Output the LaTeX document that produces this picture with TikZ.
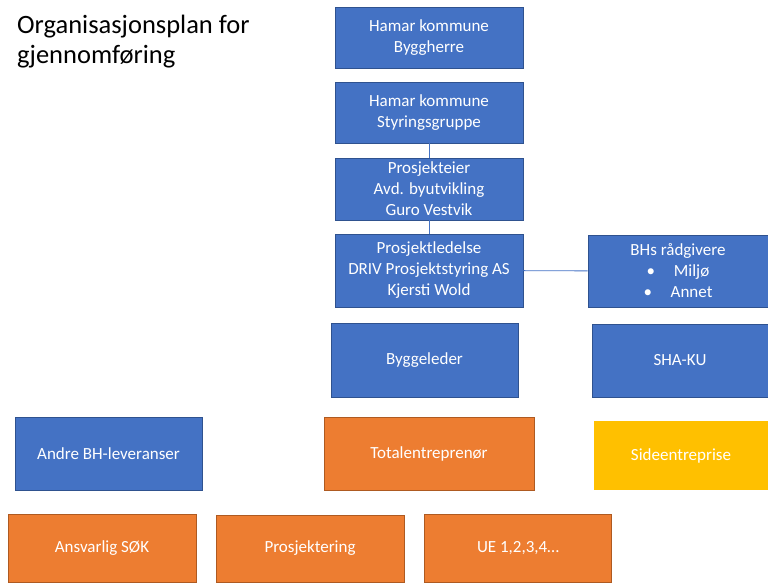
\documentclass[tikz,border=0pt]{standalone}
\usepackage{fontspec}
\setmainfont{Carlito}
\usepackage{tikz}
\usetikzlibrary{positioning,calc}

\definecolor{offblue}{HTML}{4472C4}
\definecolor{offblueline}{HTML}{2F528F}
\definecolor{offorange}{HTML}{ED7D31}
\definecolor{offorangeline}{HTML}{AE5A21}
\definecolor{offgold}{HTML}{FFC000}

\tikzset{
  orgbox/.style={draw=offblueline, line width=0.8pt, fill=offblue, text=white,
    align=center, inner sep=2pt, font=\fontsize{17}{21}\selectfont},
  tebox/.style={orgbox, draw=offorangeline, fill=offorange},
  sidebox/.style={orgbox, draw=none, fill=offgold},
  orgline/.style={draw=offblue, line width=0.9pt},
  bx/.style 2 args={minimum width=#1pt, minimum height=#2pt}
}

\begin{document}
\begin{tikzpicture}[x=1pt, y=-1pt]
    \useasboundingbox (0,0) rectangle (768,582);

    % Title
    \node [anchor=north west, align=left, inner sep=0pt, font=\fontsize{26.5}{30}\selectfont] (title) at (17,15)
        {Organisasjonsplan for\\gjennomføring};

    % Byggherre side
    \node [orgbox, bx={188}{61}] (byggherre) at (429,37.5) {Hamar kommune\\Byggherre};
    \node [orgbox, bx={188}{61}] (styring) at (429,112.5) {Hamar kommune\\Styringsgruppe};
    \node [orgbox, bx={188}{62}] (eier) at (429,189) {Prosjekteier\\Avd. byutvikling\\Guro Vestvik};
    \node [orgbox, bx={188}{73}] (ledelse) at (429,270.5) {Prosjektledelse\\DRIV Prosjektstyring AS\\Kjersti Wold};
    \node [orgbox, bx={180}{72}] (raadgiver) at (678,271)
        {BHs rådgivere\\\makebox[1.6em][l]{\textbullet}Miljø\\\makebox[1.6em][l]{\textbullet}Annet};
    \node [orgbox, bx={187}{74}] (byggeleder) at (424.5,360) {Byggeleder};
    \node [orgbox, bx={176}{73}] (shaku) at (680,360.5) {SHA-KU};
    \node [orgbox, bx={187}{73}] (andre) at (108.5,454) {Andre BH-leveranser};

    % Entreprenører
    \node [tebox, bx={210}{73}] (total) at (429,454) {Totalentreprenør};
    \node [sidebox, bx={174}{69}] (side) at (681,455.5) {Sideentreprise};
    \node [tebox, bx={188}{68}] (ansvarlig) at (102,548) {Ansvarlig SØK};
    \node [tebox, bx={188}{67}] (prosjektering) at (310,548.5) {Prosjektering};
    \node [tebox, bx={187}{68}] (ue) at (518,548) {UE 1,2,3,4…};

    % Connectors
    \draw [orgline] (styring) -- (eier);
    \draw [orgline] (eier) -- (ledelse);
    \draw [orgline] (ledelse) -- (raadgiver);
\end{tikzpicture}
\end{document}
